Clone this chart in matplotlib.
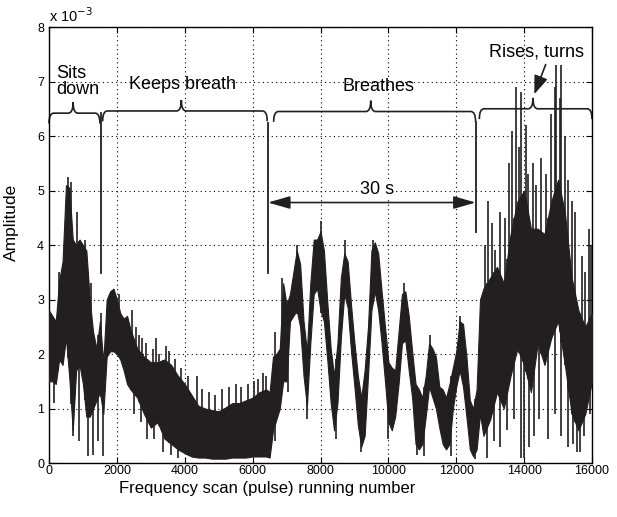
import numpy as np
import matplotlib
matplotlib.use('Agg')
import matplotlib.pyplot as plt
from matplotlib.path import Path
from matplotlib.patches import PathPatch

plt.rcParams['font.family'] = ['Liberation Sans', 'DejaVu Sans']

# envelope of the pulse amplitude (units of 1e-3)
scan = np.concatenate([np.arange(0, 2401, 100),
                       np.arange(2600, 6401, 200), [6500],
                       np.arange(6600, 12701, 100),
                       np.arange(12800, 16001, 200)])
upper = [2.8, 2.7, 2.6, 3.35, 3.7, 5.1, 5.05, 4.1, 4.0, 4.1,
         4.0, 3.9, 3.0, 2.4, 2.1, 2.6, 1.85, 3.0, 3.15, 3.2,
         3.0, 2.75, 2.65, 2.7, 2.45,
         2.1, 1.95, 1.85, 1.85, 1.9, 1.8, 1.6, 1.45, 1.25, 1.05,
         1.0, 0.97, 0.95, 1.02, 1.1, 1.1, 1.15, 1.2, 1.3, 1.35, 1.3,
         1.95, 2.0, 2.1, 3.3, 2.9, 3.1, 3.5, 3.9, 3.65, 2.6,
         2.05, 3.3, 4.1, 4.1, 4.25, 3.9, 2.95, 2.1, 1.6, 2.2,
         3.4, 3.85, 3.7, 2.9, 2.2, 1.6, 1.2, 1.7, 2.5, 3.9,
         4.05, 3.85, 3.15, 2.5, 1.85, 1.75, 1.7, 2.4, 3.1, 3.15,
         2.7, 2.05, 1.45, 1.35, 1.2, 1.6, 2.2, 2.1, 1.95, 1.4,
         1.35, 1.2, 1.45, 1.75, 2.05, 2.6, 2.55, 1.95, 1.15, 1.0,
         1.35, 3.0,
         3.2, 3.4, 3.6, 3.3, 4.2, 4.8, 5.0, 4.3, 4.3, 4.2,
         4.8, 5.2, 4.6, 3.4, 2.8, 2.5, 2.75]
lower = [1.5, 1.5, 1.45, 1.9, 1.8, 2.3, 1.55, 0.6, 1.7, 1.8,
         1.45, 0.85, 0.85, 1.0, 1.15, 1.3, 0.9, 1.95, 2.05, 2.05,
         2.0, 1.9, 1.7, 1.45, 1.35,
         1.2, 0.9, 0.65, 0.75, 0.45, 0.35, 0.25, 0.18, 0.12, 0.1,
         0.1, 0.08, 0.08, 0.08, 0.1, 0.1, 0.1, 0.12, 0.12, 0.12, 0.1,
         0.6, 0.8, 1.0, 1.5, 1.5, 2.6, 2.7, 2.8, 2.5, 1.6,
         1.05, 2.2, 3.1, 3.2, 2.8, 2.6, 1.9, 1.1, 0.6, 1.1,
         2.3, 3.1, 2.85, 2.05, 1.4, 0.7, 0.3, 0.5, 1.6, 2.8,
         3.15, 2.8, 2.2, 1.5, 0.75, 0.6, 0.85, 1.45, 2.2, 2.25,
         1.7, 1.2, 0.35, 0.25, 0.35, 0.85, 1.4, 1.2, 1.0, 0.65,
         0.35, 0.25, 0.35, 1.0, 1.4, 1.7, 1.4, 0.85, 0.25, 0.12,
         0.25, 0.9,
         0.5, 0.8, 1.3, 1.0, 1.6, 2.1, 1.8, 1.3, 2.2, 1.8,
         2.3, 2.6, 1.8, 0.9, 0.6, 0.9, 1.5]

# isolated spikes above / below the envelope
spike_up_x = [300, 550, 650, 820, 1050, 1250, 1520, 1850, 2050, 2450,
              2550, 2650, 2750, 2850, 3050, 3150, 3250, 3450, 3550, 3700,
              3900, 4100, 4350, 4500, 4700, 4900, 5100, 5300, 5500, 5650,
              5850, 6050, 6150, 6300, 6400, 6650, 6880,
              7320, 8020, 8720, 9550, 10470, 11230, 12120,
              12850, 12950, 13050, 13150, 13300, 13450, 13550, 13650, 13750,
              13850, 13900, 14050, 14100, 14250, 14350, 14500, 14650, 14800,
              14900, 14950, 15050, 15100, 15200, 15300, 15400, 15500, 15700,
              15800, 15900, 15980]
spike_up_y = [3.5, 5.25, 5.15, 4.6, 4.1, 3.3, 2.75, 3.1, 3.1, 2.8,
              2.5, 2.35, 2.3, 2.2, 2.1, 2.3, 2.0, 2.15, 2.05, 1.9,
              1.75, 1.6, 1.6, 1.35, 1.3, 1.25, 1.35, 1.4, 1.45, 1.4,
              1.45, 1.5, 1.55, 1.65, 1.6, 2.4, 3.4,
              4.0, 4.45, 4.1, 4.1, 3.3, 2.35, 2.7,
              4.0, 4.8, 4.4, 3.9, 4.6, 4.5, 5.5, 6.1, 6.9,
              5.8, 6.8, 6.2, 5.3, 5.5, 5.1, 5.6, 5.3, 6.4,
              6.9, 7.3, 6.7, 7.3, 6.0, 5.2, 4.8, 4.6, 3.8,
              3.5, 4.3, 4.0]
spike_dn_x = [150, 720, 880, 1150, 1300, 1450, 1600, 2500, 2700, 2900,
              3100, 3350, 3600, 3800, 6650,
              7050, 7600, 8450, 9200, 10000, 10850, 11050, 11850, 12550,
              12900, 13100, 13300, 13500, 13700, 13900, 14000, 14150, 14300,
              14450, 14700, 14900, 15100, 15300, 15450, 15550, 15650, 15750,
              15950]
spike_dn_y = [1.1, 0.5, 0.4, 0.12, 0.15, 0.4, 0.12, 0.9, 0.75, 0.45,
              0.45, 0.2, 0.15, 0.1, 0.4,
              1.3, 0.8, 0.45, 0.2, 0.45, 0.15, 0.12, 0.12, 0.08,
              0.1, 0.4, 0.3, 0.6, 0.8, 0.1, 0.1, 0.3, 0.5,
              0.8, 0.45, 0.9, 0.5, 0.3, 0.35, 0.2, 0.2, 0.5,
              0.9]

# phases: (start, end, brace tip, brace level)
phases = [(0, 1500, 710, 6.42),
          (1580, 6430, 3900, 6.46),
          (6620, 12570, 9480, 6.45),
          (12680, 16000, 14260, 6.5)]
markers = [(1523, 3.48, 6.42), (6453, 3.48, 6.24), (12572, 4.24, 6.26)]

ink = '#231f20'


def brace(ax, x0, x1, xt, y, h=0.19, tip=0.2, r=140):
    verts = [(x0, y - h), (x0, y), (x0 + r, y),
             (xt - r, y), (xt, y), (xt, y + tip),
             (xt, y), (xt + r, y),
             (x1 - r, y), (x1, y), (x1, y - h)]
    codes = [Path.MOVETO, Path.CURVE3, Path.CURVE3,
             Path.LINETO, Path.CURVE3, Path.CURVE3,
             Path.CURVE3, Path.CURVE3,
             Path.LINETO, Path.CURVE3, Path.CURVE3]
    ax.add_patch(PathPatch(Path(verts, codes), fill=False, lw=1.2,
                           color=ink, clip_on=False))


fig = plt.figure(figsize=(6.17, 5.17), dpi=100)
ax = fig.add_axes([0.0794, 0.1044, 0.8801, 0.8433])

ax.fill_between(scan, lower, upper, color=ink, lw=0.8, zorder=3)
lo_at_up = np.interp(spike_up_x, scan, lower)
hi_at_dn = np.interp(spike_dn_x, scan, upper)
ax.vlines(spike_up_x, lo_at_up, spike_up_y, color=ink, lw=1.2, zorder=3)
ax.vlines(spike_dn_x, spike_dn_y, hi_at_dn, color=ink, lw=1.2, zorder=3)

ax.set_xlim(0, 16000)
ax.set_ylim(0, 8)
ax.set_xticks(np.arange(0, 16001, 2000))
ax.set_yticks(np.arange(0, 9, 1))
ax.grid(True, color='black', linestyle=(0, (1, 3)), lw=0.8)
ax.tick_params(direction='in', top=True, right=True, length=4,
               labelsize=9, colors='black')
ax.tick_params(axis='x', pad=1.5)
for s in ax.spines.values():
    s.set_linewidth(1.0)
ax.set_xlabel('Frequency scan (pulse) running number', fontsize=12)
ax.xaxis.set_label_coords(0.402, -0.042)
ax.set_ylabel('Amplitude', fontsize=12.5)
ax.yaxis.set_label_coords(-0.056, 0.552)
ax.text(0.0, 1.005, r'x 10$^{-3}$', transform=ax.transAxes,
        ha='left', va='bottom', fontsize=10.5)

for x0, x1, xt, y in phases:
    brace(ax, x0, x1, xt, y)
for xm, y0, y1 in markers:
    ax.plot([xm, xm], [y0, y1], color=ink, lw=1.3, zorder=4)

ax.text(206, 7.0, 'Sits\ndown', ha='left', va='center', fontsize=13,
        linespacing=0.95)
ax.text(3934, 6.94, 'Keeps breath', ha='center', va='center', fontsize=13)
ax.text(9704, 6.9, 'Breathes', ha='center', va='center', fontsize=13)
ax.text(14350, 7.55, 'Rises, turns', ha='center', va='center', fontsize=13)
ax.annotate('', xy=(14270, 6.72), xytext=(14665, 7.36),
            arrowprops=dict(arrowstyle='-|>,head_length=0.8,head_width=0.3',
                            mutation_scale=14, color=ink, lw=1.2))

ax.annotate('', xy=(6453, 4.78), xytext=(12572, 4.78),
            arrowprops=dict(arrowstyle='<|-|>,head_length=0.9,head_width=0.26',
                            mutation_scale=15, color=ink, lw=1.2,
                            shrinkA=0, shrinkB=0), zorder=5)
ax.text(9660, 5.02, '30 s', ha='center', va='center', fontsize=13,
        bbox=dict(facecolor='white', edgecolor='none', pad=1))

fig.savefig('out.png', dpi=100)
